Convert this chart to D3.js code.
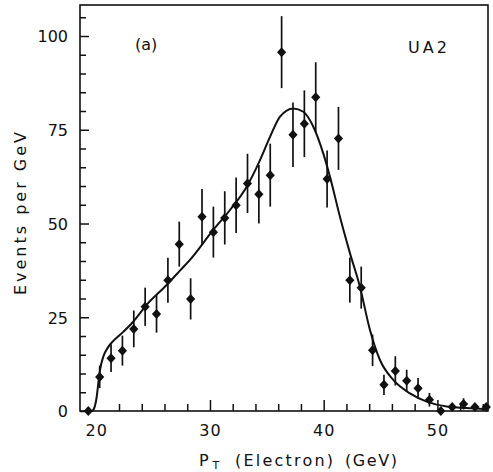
<!DOCTYPE html>
<html>
<head>
<meta charset="utf-8">
<script src="https://cdn.jsdelivr.net/npm/d3@7"></script>
<style>
  html, body { margin: 0; padding: 0; background: #fff; }
  svg { display: block; }
  text { font-family: "DejaVu Sans", sans-serif; fill: #111; }
</style>
</head>
<body>
<svg id="chart" width="493" height="472"></svg>
<script>
// ---- data ----
const binCenters = [19.3, 20.3, 21.3, 22.3, 23.3, 24.3, 25.3, 26.3, 27.3, 28.3,
                    29.3, 30.3, 31.3, 32.3, 33.3, 34.3, 35.3, 36.3, 37.3, 38.3,
                    39.3, 40.3, 41.3, 42.3, 43.3, 44.3, 45.3, 46.3, 47.3, 48.3,
                    49.3, 50.3, 51.3, 52.3, 53.3, 54.3];
const eventsPerGeV = [0, 9.1, 14.1, 16.1, 21.9, 27.8, 25.9, 34.9, 44.5, 29.9,
                      51.8, 47.7, 51.5, 54.9, 60.7, 57.8, 62.9, 95.7, 73.7, 76.6,
                      83.7, 61.9, 72.7, 34.9, 32.9, 16.2, 7.0, 10.7, 8.1, 6.1,
                      3.0, 0, 1.1, 1.9, 1.1, 1.1];
const errors = [0, 3, 3.7, 4, 4.9, 5.1, 5, 6, 6, 5.5,
                7.4, 6.8, 7.1, 7.4, 7.9, 7.8, 8.4, 9.6, 8.6, 8.9,
                9.3, 7.6, 8.4, 6, 5.6, 4.2, 2.7, 3.9, 2.9, 2.7,
                1.8, 0, 1, 1.5, 1, 1];
const fitPT = [19.6, 19.74, 20.04, 20.18, 20.33, 20.62, 21.06, 21.5, 22.37, 23.25,
               24.43, 26.19, 27.38, 28.24, 30.29, 31.76, 33.23, 34.4, 35.28, 36.16,
               37.33, 38.21, 39.09, 39.96, 40.55, 41.43, 42.31, 43.19, 44.07, 44.95,
               46.12, 47.59, 49.06, 50.82, 53.16, 54.34];
const fitValues = [0, 0.3, 3.8, 7.4, 10.9, 14.5, 17.1, 18.7, 21.1, 23.8,
                   28.3, 33.6, 37.5, 40.3, 48.3, 53.6, 59.8, 66.9, 73.1, 78.5,
                   80.7, 79.8, 75.8, 68.7, 62.5, 51.8, 42.1, 33.1, 21.6, 13.6,
                   8.3, 4.7, 2.5, 1.2, 0.7, 0.5];
const xTickLabels = [20, 30, 40, 50];
const yTickLabels = [0, 25, 50, 75, 100];
const xLabelParts = ["P", "T", "(Electron)", "(GeV)"];
const yLabel = "Events per GeV";
const panelLabel = "(a)";
const experimentLabel = "UA2";

// ---- layout ----
const svg = d3.select("#chart");
const mLeft = 80, mRight = 488, mTop = 5, mBottom = 411;

const x = d3.scaleLinear().domain([18.57, 54.45]).range([mLeft, mRight]);
const y = d3.scaleLinear().domain([0, 108.27]).range([mBottom, mTop]);

const ink = "#111";

// frame
svg.append("rect")
  .attr("x", mLeft).attr("y", mTop)
  .attr("width", mRight - mLeft).attr("height", mBottom - mTop)
  .attr("fill", "none").attr("stroke", ink).attr("stroke-width", 1.6);

// y axis ticks (inward), labels
const yMinor = d3.range(0, 106, 5);
const yAxis = d3.axisRight(y)
  .tickValues(yMinor)
  .tickSize(0)
  .tickFormat("");
const yg = svg.append("g").attr("transform", `translate(${mLeft},0)`).call(yAxis);
yg.select(".domain").remove();
yg.selectAll(".tick").append("line")
  .attr("x1", 0)
  .attr("x2", d => (d % 25 === 0 ? 9 : 6))
  .attr("stroke", ink).attr("stroke-width", 1.5);

const yLab = d3.axisLeft(y).tickValues(yTickLabels).tickSize(0).tickPadding(12).tickFormat(d3.format("d"));
const ylg = svg.append("g").attr("transform", `translate(${mLeft},0)`).call(yLab);
ylg.select(".domain").remove();
ylg.selectAll("text")
  .attr("font-size", 16).attr("font-family", "DejaVu Sans, sans-serif")
  .attr("fill", ink).attr("dy", "0.36em");

// x axis ticks (inward)
const xMinor = d3.range(22, 55, 2);
const xAxis = d3.axisTop(x).tickValues(xMinor).tickSize(0).tickFormat("");
const xg = svg.append("g").attr("transform", `translate(0,${mBottom})`).call(xAxis);
xg.select(".domain").remove();
xg.selectAll(".tick").append("line")
  .attr("y1", 0)
  .attr("y2", d => (d % 10 === 0 ? -11 : -7))
  .attr("stroke", ink).attr("stroke-width", 1.5);

const xLab = d3.axisBottom(x).tickValues(xTickLabels).tickSize(0).tickPadding(14).tickFormat(d3.format("d"));
const xlg = svg.append("g").attr("transform", `translate(0,${mBottom})`).call(xLab);
xlg.select(".domain").remove();
xlg.selectAll("text")
  .attr("font-size", 16).attr("font-family", "DejaVu Sans, sans-serif")
  .attr("fill", ink).attr("letter-spacing", "1px");

// fit curve
const line = d3.line()
  .x((d, i) => x(fitPT[i]))
  .y((d, i) => y(d))
  .curve(d3.curveMonotoneX);
svg.append("path")
  .datum(fitValues)
  .attr("d", line)
  .attr("fill", "none")
  .attr("stroke", ink)
  .attr("stroke-width", 2);

// error bars
const pts = binCenters.map((c, i) => ({ c, v: eventsPerGeV[i], e: errors[i] }));
svg.append("g").selectAll("line")
  .data(pts.filter(d => d.e > 0))
  .join("line")
  .attr("x1", d => x(d.c)).attr("x2", d => x(d.c))
  .attr("y1", d => y(d.v - d.e)).attr("y2", d => y(d.v + d.e))
  .attr("stroke", ink).attr("stroke-width", 1.7);

// diamond markers
const diamond = "M0,-5L4.6,0L0,5L-4.6,0Z";
svg.append("g").selectAll("path")
  .data(pts)
  .join("path")
  .attr("d", diamond)
  .attr("transform", d => `translate(${x(d.c)},${y(d.v)})`)
  .attr("fill", ink);

// texts
svg.append("text").attr("x", 135).attr("y", 50)
  .attr("font-size", 16).text(panelLabel);
svg.append("text").attr("x", 408).attr("y", 52.5)
  .attr("font-size", 16).attr("letter-spacing", "3px").text(experimentLabel);

// x label
svg.append("text").attr("x", 199).attr("y", 466).attr("font-size", 16).text(xLabelParts[0]);
svg.append("text").attr("x", 212.5).attr("y", 469).attr("font-size", 11).text(xLabelParts[1]);
svg.append("text").attr("x", 235).attr("y", 466).attr("font-size", 16)
  .attr("textLength", 98).attr("lengthAdjust", "spacing").text(xLabelParts[2]);
svg.append("text").attr("x", 345).attr("y", 466).attr("font-size", 16)
  .attr("textLength", 52).attr("lengthAdjust", "spacing").text(xLabelParts[3]);

// y label
svg.append("text")
  .attr("transform", "translate(26,212) rotate(-90)")
  .attr("text-anchor", "middle")
  .attr("font-size", 16)
  .attr("letter-spacing", "3px")
  .text(yLabel);
</script>
</body>
</html>
